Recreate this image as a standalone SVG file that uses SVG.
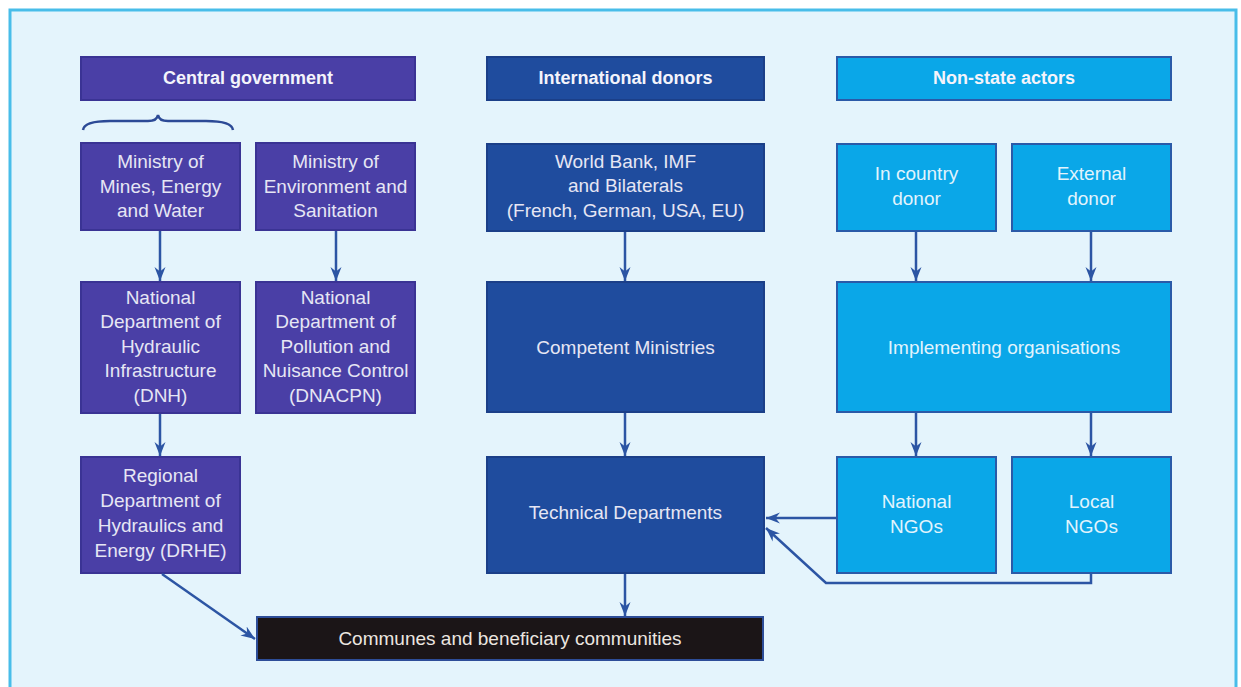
<svg xmlns="http://www.w3.org/2000/svg" width="1241" height="687" viewBox="0 0 1241 687">
<style>
  text { font-family: "Liberation Sans", Arial, sans-serif; text-anchor: middle; }
  .hd { font-size: 18px; font-weight: bold; fill: #f4f4fb; }
  .tx { font-size: 19px; fill: #e6e6f4; }
  .txc { font-size: 19px; fill: #e2f4fd; }
  .cg { fill: #4a3fa6; stroke: #3a3394; stroke-width: 2; }
  .id { fill: #1f4c9e; stroke: #1b3f88; stroke-width: 2; }
  .ns { fill: #0aa7e8; stroke: #2a5aa8; stroke-width: 2; }
  .cm { fill: #1b1517; stroke: #2d4d98; stroke-width: 2; }
  .ar { fill: none; stroke: #2c55a4; stroke-width: 2.5; marker-end: url(#ah); }
</style>
<defs>
  <marker id="ah" markerUnits="userSpaceOnUse" viewBox="-14 -6 16 12" refX="0" refY="0" markerWidth="16" markerHeight="12" orient="auto">
    <path d="M0,0 L-14,-5.5 L-9.5,0 L-14,5.5 Z" fill="#2c55a4"/>
  </marker>
</defs>
<rect x="10" y="10" width="1226" height="680" fill="#e4f4fc" stroke="#48bde9" stroke-width="3"/>

<g id="central-government">
  <rect class="cg" x="81" y="57" width="334" height="43"/>
  <text class="hd" x="248" y="84">Central government</text>
</g>
<path id="brace" d="M83,130 Q84,121 110,121 L148,121 Q157,121 158,115 Q159,121 168,121 L206,121 Q232,121 233,130" fill="none" stroke="#2c4a96" stroke-width="2.5"/>
<g id="ministry-mines">
  <rect class="cg" x="81" y="143" width="159" height="87"/>
  <text class="tx" x="160.5" y="168">Ministry of</text>
  <text class="tx" x="160.5" y="193">Mines, Energy</text>
  <text class="tx" x="160.5" y="217">and Water</text>
</g>
<g id="ministry-environment">
  <rect class="cg" x="256" y="143" width="159" height="87"/>
  <text class="tx" x="335.5" y="168">Ministry of</text>
  <text class="tx" x="335.5" y="193">Environment and</text>
  <text class="tx" x="335.5" y="217">Sanitation</text>
</g>
<g id="dnh">
  <rect class="cg" x="81" y="282" width="159" height="131"/>
  <text class="tx" x="160.5" y="304">National</text>
  <text class="tx" x="160.5" y="328">Department of</text>
  <text class="tx" x="160.5" y="353">Hydraulic</text>
  <text class="tx" x="160.5" y="377">Infrastructure</text>
  <text class="tx" x="160.5" y="402">(DNH)</text>
</g>
<g id="dnacpn">
  <rect class="cg" x="256" y="282" width="159" height="131"/>
  <text class="tx" x="335.5" y="304">National</text>
  <text class="tx" x="335.5" y="328">Department of</text>
  <text class="tx" x="335.5" y="353">Pollution and</text>
  <text class="tx" x="335.5" y="377">Nuisance Control</text>
  <text class="tx" x="335.5" y="402">(DNACPN)</text>
</g>
<g id="drhe">
  <rect class="cg" x="81" y="457" width="159" height="116"/>
  <text class="tx" x="160.5" y="482">Regional</text>
  <text class="tx" x="160.5" y="507">Department of</text>
  <text class="tx" x="160.5" y="532">Hydraulics and</text>
  <text class="tx" x="160.5" y="557">Energy (DRHE)</text>
</g>

<g id="international-donors">
  <rect class="id" x="487" y="57" width="277" height="43"/>
  <text class="hd" x="625.5" y="84">International donors</text>
</g>
<g id="world-bank">
  <rect class="id" x="487" y="144" width="277" height="87"/>
  <text class="tx" x="625.5" y="168">World Bank, IMF</text>
  <text class="tx" x="625.5" y="192">and Bilaterals</text>
  <text class="tx" x="625.5" y="217">(French, German, USA, EU)</text>
</g>
<g id="competent-ministries">
  <rect class="id" x="487" y="282" width="277" height="130"/>
  <text class="tx" x="625.5" y="354">Competent Ministries</text>
</g>
<g id="technical-departments">
  <rect class="id" x="487" y="457" width="277" height="116"/>
  <text class="tx" x="625.5" y="519">Technical Departments</text>
</g>

<g id="non-state-actors">
  <rect class="ns" x="837" y="57" width="334" height="43"/>
  <text class="hd" x="1004" y="84">Non-state actors</text>
</g>
<g id="in-country-donor">
  <rect class="ns" x="837" y="144" width="159" height="87"/>
  <text class="txc" x="916.5" y="180">In country</text>
  <text class="txc" x="916.5" y="205">donor</text>
</g>
<g id="external-donor">
  <rect class="ns" x="1012" y="144" width="159" height="87"/>
  <text class="txc" x="1091.5" y="180">External</text>
  <text class="txc" x="1091.5" y="205">donor</text>
</g>
<g id="implementing-organisations">
  <rect class="ns" x="837" y="282" width="334" height="130"/>
  <text class="txc" x="1004" y="354">Implementing organisations</text>
</g>
<g id="national-ngos">
  <rect class="ns" x="837" y="457" width="159" height="116"/>
  <text class="txc" x="916.5" y="508">National</text>
  <text class="txc" x="916.5" y="533">NGOs</text>
</g>
<g id="local-ngos">
  <rect class="ns" x="1012" y="457" width="159" height="116"/>
  <text class="txc" x="1091.5" y="508">Local</text>
  <text class="txc" x="1091.5" y="533">NGOs</text>
</g>

<g id="communes">
  <rect class="cm" x="257" y="617" width="506" height="43"/>
  <text class="tx" x="510" y="645" style="fill:#ece6e0">Communes and beneficiary communities</text>
</g>

<g id="connectors">
  <path class="ar" d="M160,231 L160,281"/>
  <path class="ar" d="M336,231 L336,281"/>
  <path class="ar" d="M160,414 L160,456"/>
  <path class="ar" d="M162,574 L255,639"/>
  <path class="ar" d="M625,232 L625,281"/>
  <path class="ar" d="M625,413 L625,456"/>
  <path class="ar" d="M625,574 L625,616"/>
  <path class="ar" d="M916,232 L916,281"/>
  <path class="ar" d="M1091,232 L1091,281"/>
  <path class="ar" d="M916,413 L916,456"/>
  <path class="ar" d="M1091,413 L1091,456"/>
  <path class="ar" d="M836,518 L766,518"/>
  <path class="ar" d="M1091,574 L1091,583 L826,583 L766,528"/>
</g>
</svg>
